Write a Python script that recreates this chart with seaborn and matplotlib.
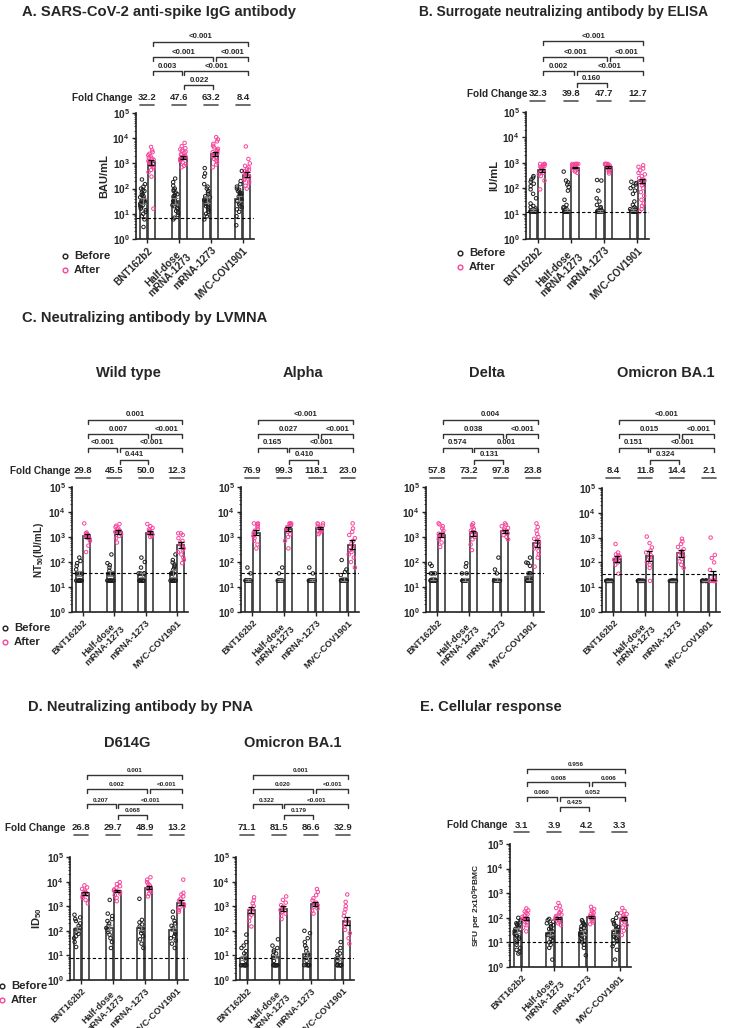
import numpy as np
import pandas as pd
import seaborn as sns
import matplotlib.pyplot as plt
from matplotlib import transforms
from matplotlib.lines import Line2D
from matplotlib.ticker import LogLocator, NullFormatter

vaccines = ['BNT162b2', 'Half-dose\nmRNA-1273', 'mRNA-1273', 'MVC-COV1901']
# bracket order: top, 2nd row (2), 3rd row (2), bottom
pairs = [(0, 3), (0, 2), (2, 3), (0, 1), (1, 3), (1, 2)]
pair_row = [0, 1, 1, 2, 2, 3]

# ---- A. anti-spike IgG (BAU/mL)
igg_before = [
    [3, 6, 8, 10, 12, 14, 16, 18, 20, 22, 25, 28, 30, 33, 36, 40, 45, 50, 55, 60, 70, 80, 90, 100, 120, 150, 230],
    [6, 7, 9, 11, 13, 15, 17, 20, 22, 25, 28, 30, 33, 36, 40, 45, 50, 55, 60, 70, 80, 90, 100, 130, 180, 250],
    [6, 8, 10, 12, 14, 16, 18, 20, 22, 25, 28, 30, 33, 36, 40, 45, 50, 60, 70, 80, 100, 120, 150, 300, 400, 650],
    [3.5, 8, 12, 15, 18, 20, 24, 28, 32, 36, 40, 44, 48, 52, 56, 60, 65, 70, 80, 90, 100, 120, 150, 200, 500],
]
igg_after = [
    [16, 300, 450, 550, 650, 750, 850, 950, 1050, 1150, 1250, 1400, 1550, 1700, 1900, 2100, 2400, 2800, 3300, 4500],
    [700, 800, 950, 1100, 1250, 1400, 1550, 1700, 1850, 2000, 2200, 2400, 2600, 2900, 3200, 3600, 4000, 4800, 6500],
    [700, 900, 1100, 1300, 1500, 1700, 1900, 2100, 2300, 2500, 2800, 3100, 3400, 3800, 4300, 5000, 6000, 7500, 9000, 11000],
    [100, 130, 160, 190, 220, 250, 280, 310, 340, 380, 420, 460, 500, 560, 620, 700, 800, 1000, 1500, 4700],
]
igg_gm_before = [32, 32, 35, 40]
igg_gm_after = [1100, 1700, 2400, 350]
igg_err_before = [1.3, 1.3, 1.3, 1.25]
igg_err_after = [1.25, 1.15, 1.2, 1.25]
igg_lod = 7
igg_fold = ['32.2', '47.6', '63.2', '8.4']
igg_p = ['<0.001', '<0.001', '<0.001', '0.003', '<0.001', '0.022']

# ---- B. surrogate neutralizing antibody (IU/mL)
snab_before = [
    [12] * 8 + [13, 14, 15, 16, 18, 20, 25, 40, 60, 90, 120, 150, 180, 220, 260, 300],
    [12] * 8 + [13, 14, 15, 16, 18, 22, 35, 80, 110, 140, 170, 200, 450],
    [12] * 10 + [13, 14, 16, 18, 22, 30, 40, 80, 200, 210],
    [12] * 8 + [13, 14, 15, 16, 18, 22, 30, 60, 80, 100, 120, 140, 160, 180],
]
snab_after = [
    [90, 200, 300, 350, 400, 450, 500, 550, 600, 650, 700, 750, 800, 850, 900, 900, 900],
    [400, 450, 500, 550, 600, 650, 700, 750, 800, 850, 900, 900, 900, 900, 900],
    [380, 450, 500, 550, 600, 650, 700, 750, 800, 850, 900, 900, 900, 900, 900],
    [12, 15, 20, 25, 35, 50, 70, 100, 130, 160, 180, 200, 220, 250, 300, 350, 400, 500, 600, 700, 800],
]
snab_gm_before = [14, 14, 13, 14]
snab_gm_after = [500, 650, 700, 200]
snab_err_before = [1.1, 1.1, 1.08, 1.1]
snab_err_after = [1.12, 1.08, 1.08, 1.2]
snab_lod = 12
snab_fold = ['32.3', '39.8', '47.7', '12.7']
snab_p = ['<0.001', '<0.001', '<0.001', '0.002', '<0.001', '0.160']

# ---- C. LVMNA, wild type (NT50)
wt_before = [
    [18] * 8 + [35] * 4 + [50, 70, 90, 110, 150],
    [18] * 8 + [35] * 4 + [45, 60, 75, 90, 200],
    [18] * 9 + [35] * 4 + [60, 100, 150],
    [18] * 8 + [35] * 4 + [50, 60, 70, 80, 95, 120, 200],
]
wt_after = [
    [250, 450, 700, 850, 950, 1050, 1100, 1200, 1300, 1400, 1500, 3500],
    [600, 900, 1100, 1300, 1500, 1600, 1800, 2000, 2200, 2500, 2800, 3300],
    [1000, 1100, 1250, 1400, 1500, 1600, 1800, 2000, 2300, 2700, 3300],
    [90, 120, 150, 200, 250, 300, 350, 400, 500, 600, 700, 900, 1200, 1400, 1400],
]
wt_gm_before = [35, 35, 30, 35]
wt_gm_after = [1100, 1600, 1500, 480]
wt_err_before = [1.3, 1.3, 1.2, 1.35]
wt_err_after = [1.2, 1.2, 1.15, 1.35]
wt_fold = ['29.8', '45.5', '50.0', '12.3']
wt_p = ['0.001', '0.007', '<0.001', '<0.001', '<0.001', '0.441']

# ---- C. LVMNA, Alpha
alpha_before = [
    [18] * 12 + [35, 60],
    [18] * 12 + [35, 60],
    [18] * 12 + [35, 60],
    [18] * 11 + [30, 40, 50, 120],
]
alpha_after = [
    [350, 500, 700, 900, 1100, 1300, 1500, 1800, 2100, 2500, 2900, 3300, 3500, 3500],
    [350, 700, 1000, 1300, 1600, 1900, 2200, 2500, 2800, 3100, 3400, 3500, 3500],
    [1300, 1500, 1700, 1900, 2100, 2300, 2600, 2900, 3200, 3500, 3500],
    [60, 100, 150, 200, 250, 300, 350, 450, 550, 700, 900, 1200, 1600, 2200, 3500],
]
alpha_gm_before = [19, 19, 19, 21]
alpha_gm_after = [1500, 2000, 2300, 500]
alpha_err_before = [1.1, 1.1, 1.1, 1.2]
alpha_err_after = [1.25, 1.2, 1.12, 1.45]
alpha_fold = ['76.9', '99.3', '118.1', '23.0']
alpha_p = ['<0.001', '0.027', '<0.001', '0.165', '<0.001', '0.410']

# ---- C. LVMNA, Delta
delta_before = [
    [18] * 11 + [35] * 3 + [70, 85],
    [18] * 11 + [35] * 2 + [65, 90],
    [18] * 12 + [35, 50, 150],
    [18] * 10 + [35] * 3 + [70, 90, 95, 150],
]
delta_after = [
    [400, 600, 800, 950, 1100, 1200, 1350, 1500, 1800, 2200, 2700, 3200, 3500],
    [300, 500, 800, 1000, 1200, 1400, 1600, 1800, 2100, 2500, 3000, 3500],
    [800, 1000, 1200, 1400, 1600, 1800, 2000, 2300, 2700, 3100, 3500],
    [65, 150, 200, 280, 350, 420, 500, 600, 700, 850, 1000, 1300, 1800, 2500, 3500],
]
delta_gm_before = [21, 20, 20, 24]
delta_gm_after = [1200, 1400, 1700, 560]
delta_err_before = [1.15, 1.15, 1.15, 1.25]
delta_err_after = [1.25, 1.25, 1.15, 1.4]
delta_fold = ['57.8', '73.2', '97.8', '23.8']
delta_p = ['0.004', '0.038', '<0.001', '0.574', '0.001', '0.131']

# ---- C. LVMNA, Omicron BA.1
omi_before = [[18] * 14, [18] * 14, [18] * 14, [18] * 14]
omi_after = [
    [35, 80, 100, 120, 130, 140, 150, 170, 190, 210, 250, 550],
    [18, 60, 80, 100, 130, 160, 200, 250, 300, 400, 600, 1100],
    [60, 80, 110, 140, 170, 200, 240, 280, 340, 420, 550, 700, 900],
    [18] * 10 + [25, 50, 100, 150, 200, 1000],
]
omi_gm_before = [18, 18, 18, 18]
omi_gm_after = [140, 180, 230, 30]
omi_err_before = [1.0, 1.0, 1.0, 1.0]
omi_err_after = [1.3, 1.55, 1.4, 1.5]
omi_fold = ['8.4', '11.8', '14.4', '2.1']
omi_p = ['<0.001', '0.015', '<0.001', '0.151', '<0.001', '0.324']
lvmna_lod = 35

# ---- D. PNA, D614G (ID50)
d614g_before = [
    [22, 35, 50, 60, 75, 90, 110, 130, 160, 200, 250, 300, 350, 450],
    [20, 35, 50, 70, 90, 110, 130, 160, 200, 250, 300, 400, 500, 1800],
    [20, 30, 45, 60, 80, 100, 120, 150, 180, 220, 280, 2000],
    [20, 30, 40, 50, 60, 75, 90, 110, 130, 160, 200, 250, 350, 600],
]
d614g_after = [
    [1300, 1800, 2200, 2600, 3000, 3400, 3800, 4300, 5000, 5800, 7000],
    [1600, 2200, 2800, 3300, 3800, 4300, 4800, 5500, 6500, 8000, 9500],
    [2500, 3200, 3900, 4500, 5200, 6000, 7000, 8000, 9500, 12000, 15000],
    [600, 700, 850, 1000, 1200, 1400, 1700, 2000, 2500, 3000, 3500, 12000],
]
d614g_gm_before = [120, 135, 130, 110]
d614g_gm_after = [3300, 4200, 5500, 1400]
d614g_err_before = [1.2, 1.25, 1.2, 1.15]
d614g_err_after = [1.15, 1.12, 1.15, 1.25]
d614g_fold = ['26.8', '29.7', '48.9', '13.2']
d614g_p = ['0.001', '0.002', '<0.001', '0.207', '<0.001', '0.068']

# ---- D. PNA, Omicron BA.1 (ID50)
pomi_before = [
    [4] * 8 + [6, 8, 10, 12, 15, 20, 25, 35, 70],
    [4] * 8 + [6, 8, 10, 12, 14, 16, 20, 25, 45],
    [4] * 6 + [6, 8, 10, 12, 15, 20, 25, 35, 50, 80, 100],
    [4] * 9 + [6, 8, 10, 12, 15, 20, 35],
]
pomi_after = [
    [150, 250, 350, 450, 550, 650, 800, 1000, 1300, 1700, 2300],
    [300, 400, 500, 600, 700, 800, 950, 1100, 1400, 1800, 2500],
    [500, 650, 800, 950, 1100, 1250, 1400, 1700, 2100, 2800, 3800, 5000],
    [30, 50, 80, 110, 150, 190, 240, 300, 400, 550, 750, 1000, 1500, 3000],
]
pomi_gm_before = [8, 9, 11, 7.5]
pomi_gm_after = [700, 800, 1200, 250]
pomi_err_before = [1.2, 1.2, 1.25, 1.15]
pomi_err_after = [1.35, 1.25, 1.2, 1.4]
pomi_fold = ['71.1', '81.5', '86.6', '32.9']
pomi_p = ['0.001', '0.020', '<0.001', '0.322', '<0.001', '0.179']
pna_lod = 8

# ---- E. cellular response (SFU per 2x10^5 PBMC)
sfu_before = [
    [3.5, 4, 5, 6, 8, 10, 12, 14, 16, 18, 20, 22, 25, 28, 31, 35, 40, 45, 50, 55, 60, 70, 80, 100],
    [2, 6, 8, 10, 12, 14, 16, 18, 20, 22, 25, 28, 31, 35, 40, 45, 50, 55, 60, 70, 80, 90],
    [3, 6, 8, 10, 12, 14, 16, 18, 20, 22, 25, 28, 31, 35, 40, 45, 50, 55, 60, 70, 80],
    [2, 5, 7, 9, 11, 13, 15, 17, 19, 21, 24, 27, 30, 33, 37, 42, 47, 55, 65, 80, 100, 150],
]
sfu_after = [
    [28, 40, 50, 60, 70, 80, 90, 100, 110, 120, 140, 160, 180, 200, 240],
    [50, 60, 70, 80, 90, 100, 110, 120, 135, 150, 170, 200, 250, 300, 400],
    [55, 65, 75, 85, 95, 105, 115, 125, 140, 160, 180, 200, 230, 280],
    [20, 30, 40, 50, 60, 70, 80, 90, 100, 110, 125, 140, 160, 190, 250],
]
sfu_gm_before = [30, 24, 25, 28]
sfu_gm_after = [90, 100, 110, 90]
sfu_err_before = [1.25, 1.25, 1.2, 1.25]
sfu_err_after = [1.15, 1.12, 1.12, 1.15]
sfu_lod = 10
sfu_fold = ['3.1', '3.9', '4.2', '3.3']
sfu_p = ['0.956', '0.008', '0.006', '0.060', '0.052', '0.425']

PINK = '#f7459d'
DARK = '#1e1e1e'
W, H = 729, 1028

sns.set_style('ticks')
plt.rcParams['font.family'] = ['Liberation Sans', 'DejaVu Sans']
plt.rcParams['font.weight'] = 'bold'
plt.rcParams['axes.labelweight'] = 'bold'
plt.rcParams['mathtext.fontset'] = 'custom'
plt.rcParams['mathtext.rm'] = 'Liberation Sans:bold'
plt.rcParams['mathtext.bf'] = 'Liberation Sans:bold'
plt.rcParams['mathtext.it'] = 'Liberation Sans:bold:italic'
np.random.seed(3)

fig = plt.figure(figsize=(W / 100, H / 100), dpi=100)


def fy(y):
    return 1 - y / H


def draw_panel(box, before, after, gm_b, gm_a, err_b, err_a, lod, fold, pvals,
               rows_y, fold_y, ylabel=None, p_size=5.6, ylab_size=8, xlab_size=7.2):
    left, top, width, bottom = box
    ax = fig.add_axes([left / W, fy(bottom), width / W, (bottom - top) / H])
    ax.set_yscale('log')

    recs = []
    for i in range(4):
        recs += [(i - 0.125, v, 'Before') for v in before[i]]
        recs += [(i + 0.125, v, 'After') for v in after[i]]
    pts = pd.DataFrame(recs, columns=['pos', 'value', 'time'])
    bars = pd.DataFrame({
        'pos': [i + d for i in range(4) for d in (-0.125, 0.125)],
        'value': [v for pr in zip(gm_b, gm_a) for v in pr],
    })

    sns.barplot(data=bars, x='pos', y='value', native_scale=True, width=0.88,
                color='white', saturation=1, edgecolor='#3a3a3a', linewidth=1.2,
                errorbar=None, ax=ax, zorder=1)
    sns.stripplot(data=pts[pts.time == 'Before'], x='pos', y='value', native_scale=True,
                  jitter=0.1, size=2.5, color=DARK, facecolors='none', edgecolor=DARK,
                  linewidth=0.7, ax=ax, zorder=2)
    sns.stripplot(data=pts[pts.time == 'After'], x='pos', y='value', native_scale=True,
                  jitter=0.1, size=2.5, color=PINK, facecolors='none', edgecolor=PINK,
                  linewidth=0.7, ax=ax, zorder=2)

    gb, ga = np.array(gm_b, float), np.array(gm_a, float)
    eb, ea = np.array(err_b), np.array(err_a)
    ax.errorbar(np.arange(4) - 0.125, gb, yerr=[gb - gb / eb, gb * eb - gb], fmt='none',
                ecolor='#888888', elinewidth=0.9, capsize=2, capthick=0.9, zorder=5)
    ax.errorbar(np.arange(4) + 0.125, ga, yerr=[ga - ga / ea, ga * ea - ga], fmt='none',
                ecolor='black', elinewidth=0.9, capsize=2, capthick=0.9, zorder=5)
    ax.axhline(lod, color='black', ls=(0, (3, 2)), lw=0.8, zorder=4)

    ax.set_xlim(-0.35, 3.35)
    ax.set_ylim(1, 1e5)
    ax.set_yticks([10 ** k for k in range(6)])
    ax.set_yticklabels(['$10^{%d}$' % k for k in range(6)], fontsize=7.3)
    ax.yaxis.set_minor_locator(LogLocator(base=10, subs=range(2, 10), numticks=20))
    ax.yaxis.set_minor_formatter(NullFormatter())
    ax.set_xticks(range(4))
    ax.set_xticklabels(vaccines, rotation=45, ha='right', rotation_mode='anchor',
                       fontsize=xlab_size, multialignment='center', linespacing=1.0)
    ax.tick_params(axis='both', which='major', length=3, width=1, pad=1.5, color='#222')
    ax.tick_params(axis='y', which='minor', length=1.5, width=0.6, color='#222')
    for s in ('left', 'bottom'):
        ax.spines[s].set_linewidth(1.2)
        ax.spines[s].set_color('#222')
    sns.despine(ax=ax)
    ax.set_xlabel('')
    ax.set_ylabel(ylabel if ylabel else '', fontsize=ylab_size, labelpad=2)

    # significance brackets above the After bars
    tr = transforms.blended_transform_factory(ax.transData, fig.transFigure)
    for (i, j), r, p in zip(pairs, pair_row, pvals):
        x1 = i + 0.17
        x2 = j + (0.17 if j == 3 else 0.08)
        y = fy(rows_y[r])
        d = 4 / H
        ax.plot([x1, x1, x2, x2], [y - d, y, y, y - d], transform=tr, clip_on=False,
                color='#333333', lw=1.0)
        ax.text((x1 + x2) / 2, y + 1.5 / H, p, transform=tr, ha='center', va='bottom',
                fontsize=p_size)

    # fold change values with underlines
    for k, f in enumerate(fold):
        ax.text(k, fy(fold_y), f, transform=tr, ha='center', va='center', fontsize=6.8)
        ax.plot([k - 0.22, k + 0.22], [fy(fold_y + 7)] * 2, transform=tr, clip_on=False,
                color='#555555', lw=1.2)
    return ax


def legend_at(x, y):
    for k, (lab, col) in enumerate([('Before', DARK), ('After', PINK)]):
        yy = fy(y + 14 * k)
        fig.add_artist(Line2D([(x + 2) / W], [yy], marker='o', ms=3.4, mfc='none', mec=col,
                              mew=1.0, transform=fig.transFigure))
        fig.text((x + 11) / W, yy, lab, va='center', ha='left', fontsize=8.2)


# section titles
fig.text(22 / W, fy(12), 'A. SARS-CoV-2 anti-spike IgG antibody', fontsize=10.6, va='center')
fig.text(419 / W, fy(12), 'B. Surrogate neutralizing antibody by ELISA', fontsize=9.9, va='center')
fig.text(22 / W, fy(318), 'C. Neutralizing antibody by LVMNA', fontsize=10.6, va='center')
fig.text(28 / W, fy(707), 'D. Neutralizing antibody by PNA', fontsize=10.6, va='center')
fig.text(420 / W, fy(707), 'E. Cellular response', fontsize=10.6, va='center')

# A
draw_panel((136, 113, 118, 239), igg_before, igg_after, igg_gm_before, igg_gm_after,
           igg_err_before, igg_err_after, igg_lod, igg_fold, igg_p,
           [42, 57, 71, 85], 98, ylabel='BAU/mL')
fig.text(72 / W, fy(98), 'Fold Change', fontsize=7.2, va='center')
legend_at(63, 256)

# B
draw_panel((526, 112, 123, 239), snab_before, snab_after, snab_gm_before, snab_gm_after,
           snab_err_before, snab_err_after, snab_lod, snab_fold, snab_p,
           [41, 57, 71, 83], 94, ylabel='IU/mL')
fig.text(467 / W, fy(94), 'Fold Change', fontsize=7.2, va='center')
legend_at(458, 253)

# C
c_rows = [420, 434, 448, 460]
draw_panel((72, 487, 116, 612), wt_before, wt_after, wt_gm_before, wt_gm_after,
           wt_err_before, wt_err_after, lvmna_lod, wt_fold, wt_p, c_rows, 471,
           ylabel='NT$_{50}$(IU/mL)', ylab_size=7, xlab_size=6.7)
draw_panel((241, 487, 118, 612), alpha_before, alpha_after, alpha_gm_before, alpha_gm_after,
           alpha_err_before, alpha_err_after, lvmna_lod, alpha_fold, alpha_p, c_rows, 471,
           xlab_size=6.7)
draw_panel((426, 487, 118, 612), delta_before, delta_after, delta_gm_before, delta_gm_after,
           delta_err_before, delta_err_after, lvmna_lod, delta_fold, delta_p, c_rows, 471,
           xlab_size=6.7)
draw_panel((602, 488, 118, 612), omi_before, omi_after, omi_gm_before, omi_gm_after,
           omi_err_before, omi_err_after, lvmna_lod, omi_fold, omi_p, c_rows, 471,
           xlab_size=6.7)
fig.text(10 / W, fy(471), 'Fold Change', fontsize=7.2, va='center')
for x, t in [(128, 'Wild type'), (303, 'Alpha'), (487, 'Delta'), (666, 'Omicron BA.1')]:
    fig.text(x / W, fy(373), t, fontsize=10.5, ha='center', va='center')
legend_at(3, 628)

# D
d_rows = [775, 789, 804, 815]
draw_panel((70, 857, 118, 980), d614g_before, d614g_after, d614g_gm_before, d614g_gm_after,
           d614g_err_before, d614g_err_after, pna_lod, d614g_fold, d614g_p, d_rows, 828,
           ylabel='ID$_{50}$', p_size=4.6, xlab_size=6.6)
draw_panel((236, 857, 118, 980), pomi_before, pomi_after, pomi_gm_before, pomi_gm_after,
           pomi_err_before, pomi_err_after, pna_lod, pomi_fold, pomi_p, d_rows, 828,
           p_size=4.6, xlab_size=6.6)
fig.text(5 / W, fy(828), 'Fold Change', fontsize=7.2, va='center')
for x, t in [(127, 'D614G'), (293, 'Omicron BA.1')]:
    fig.text(x / W, fy(743), t, fontsize=10.5, ha='center', va='center')
legend_at(0, 986)

# E
draw_panel((510, 844, 121, 967), sfu_before, sfu_after, sfu_gm_before, sfu_gm_after,
           sfu_err_before, sfu_err_after, sfu_lod, sfu_fold, sfu_p,
           [769, 782, 797, 807], 825, ylabel='SFU per 2x10$^{5}$PBMC', p_size=4.6,
           ylab_size=6, xlab_size=6.7)
fig.text(447 / W, fy(825), 'Fold Change', fontsize=7.2, va='center')

fig.savefig('out.png', dpi=100, facecolor='white')
